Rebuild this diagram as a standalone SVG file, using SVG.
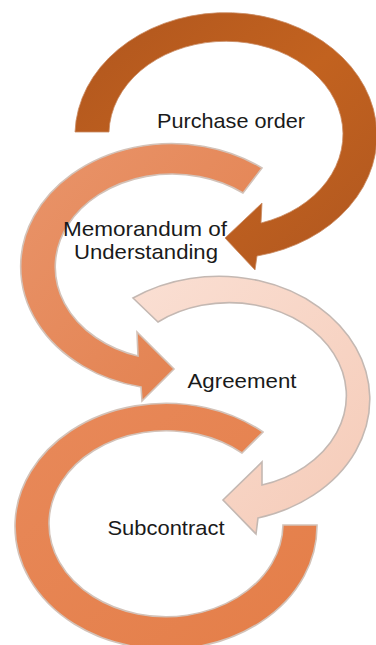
<svg xmlns="http://www.w3.org/2000/svg" width="376" height="645" viewBox="0 0 376 645">
<defs>
<linearGradient id="g1" x1="0" y1="0" x2="1" y2="1"><stop offset="0" stop-color="#B0561E"/><stop offset="0.5" stop-color="#C2621F"/><stop offset="1" stop-color="#B05720"/></linearGradient>
<linearGradient id="g2" x1="0" y1="0" x2="1" y2="1"><stop offset="0" stop-color="#E9946A"/><stop offset="1" stop-color="#E27F4C"/></linearGradient>
<linearGradient id="g3" x1="0" y1="0" x2="1" y2="1"><stop offset="0" stop-color="#FADFD3"/><stop offset="1" stop-color="#F5CBB8"/></linearGradient>
<linearGradient id="g4" x1="0" y1="0" x2="1" y2="1"><stop offset="0" stop-color="#E8895A"/><stop offset="1" stop-color="#E47E48"/></linearGradient>
</defs>
<style>
.lbl{font-family:"Liberation Sans",Arial,sans-serif;font-size:21px;fill:#1a1a1a;text-anchor:middle}
.s1{fill:url(#g1);stroke:#C98A62;stroke-width:0.8}
.s2{fill:url(#g2);stroke:#D3C2B8;stroke-width:1.6}
.s3{fill:url(#g3);stroke:#C4B8B2;stroke-width:1.6}
.s4{fill:url(#g4);stroke:#D3C2B8;stroke-width:1.6}
</style>
<g id="connectors"></g>
<g id="node-purchase-order">
<path class="s1" d="M 75 132 A 151 123 0 1 1 257 256 L 255 270 L 225 238 L 262 203 L 261 223 A 117 93 0 1 0 109 132 Z"/>
<text class="lbl" x="231" y="128" textLength="148" lengthAdjust="spacingAndGlyphs">Purchase order</text>
</g>
<g id="node-mou">
<path class="s2" d="M 262 168 A 151 123 0 1 0 141 387 L 142 401 L 174 369 L 137 332 L 138 356 A 117 93 0 1 1 243 193 Z"/>
<text class="lbl" x="145" y="236" textLength="164" lengthAdjust="spacingAndGlyphs">Memorandum of</text>
<text class="lbl" x="146" y="259" textLength="144" lengthAdjust="spacingAndGlyphs">Understanding</text>
</g>
<g id="node-agreement">
<path class="s3" d="M 133 298 A 151 123 0 1 1 258 518 L 256 534 L 223 500 L 262 462 L 262 485 A 117 93 0 1 0 158 322 Z"/>
<text class="lbl" x="242" y="388" textLength="109" lengthAdjust="spacingAndGlyphs">Agreement</text>
</g>
<g id="node-subcontract">
<path class="s4" d="M 263 432 A 151 123 0 1 0 317 525 L 283 525 A 117 93 0 1 1 242 453 Z"/>
<text class="lbl" x="166" y="535" textLength="117" lengthAdjust="spacingAndGlyphs">Subcontract</text>
</g>
</svg>
